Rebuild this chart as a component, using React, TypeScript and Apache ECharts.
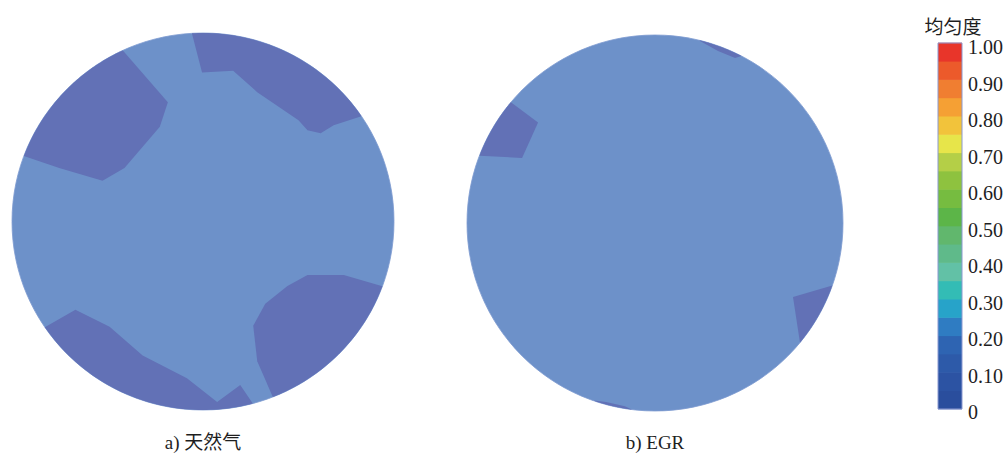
import React, { useEffect, useRef } from "react";
import * as echarts from "echarts";

// Colour bar: band edges (uniformity) and band colours, bottom to top
const bandEdges = [0, 0.05, 0.1, 0.15, 0.2, 0.25, 0.3, 0.35, 0.4, 0.45, 0.5, 0.55, 0.6, 0.65, 0.7, 0.75, 0.8, 0.85, 0.9, 0.95, 1.0];
const bandColors = [
  "#2a4e9d", "#2c53a3", "#2d5aa9", "#2e64b2", "#2f7cc2",
  "#27a3c9", "#33bcb5", "#62c1a6", "#5fba8a", "#61b76d",
  "#5cb548", "#76bc40", "#8ec23f", "#b4cf47", "#e7e54a",
  "#f2c33b", "#f5a034", "#f07e31", "#ec5a2b", "#e8352a",
];
const tickValues = [0, 0.1, 0.2, 0.3, 0.4, 0.5, 0.6, 0.7, 0.8, 0.9, 1.0];
const tickLabels = ["0", "0.10", "0.20", "0.30", "0.40", "0.50", "0.60", "0.70", "0.80", "0.90", "1.00"];
const legendTitle = "均匀度";
const captions = ["a) 天然气", "b) EGR"];

// Field colours
const backgroundColor = "#6d91c9";
const lowColor = "#6271b6";

// Low-uniformity regions, in normalised section coordinates (unit circle).
// First and last points lie on the wall; the outline closes along the wall.
const leftLowRegions: number[][][] = [
  [[-0.416, 0.9], [-0.184, 0.633], [-0.226, 0.502], [-0.411, 0.284], [-0.526, 0.216], [-0.753, 0.284], [-0.937, 0.347]],
  [[-0.058, 0.995], [-0.005, 0.791], [0.158, 0.8], [0.284, 0.686], [0.5, 0.537], [0.547, 0.484], [0.616, 0.468], [0.684, 0.511], [0.821, 0.553]],
  [[0.937, -0.342], [0.737, -0.284], [0.547, -0.284], [0.442, -0.342], [0.326, -0.437], [0.263, -0.553], [0.284, -0.742], [0.368, -0.937]],
  [[-0.832, -0.563], [-0.668, -0.468], [-0.489, -0.558], [-0.316, -0.711], [-0.084, -0.832], [0.074, -0.958], [0.195, -0.868], [0.263, -0.974]],
];
const rightLowRegions: number[][][] = [
  [[-0.755, 0.633], [-0.622, 0.534], [-0.707, 0.346], [-0.915, 0.351]],
  [[0.936, -0.33], [0.734, -0.394], [0.761, -0.628]],
  [[0.229, 0.968], [0.335, 0.915], [0.426, 0.878], [0.46, 0.888]],
  [[-0.335, -0.942], [-0.26, -0.952], [-0.16, -0.975], [-0.12, -0.993]],
];

const serif = "Liberation Serif, DejaVu Serif, Noto Sans CJK SC, serif";

function regionPoints(pts: number[][], api: any) {
  const norm = (p: number[]) => {
    const l = Math.hypot(p[0], p[1]);
    return [p[0] / l, p[1] / l];
  };
  const first = norm(pts[0]);
  const last = norm(pts[pts.length - 1]);
  const a0 = Math.atan2(last[1], last[0]);
  const a1 = Math.atan2(first[1], first[0]);
  let d = a1 - a0;
  while (d > Math.PI) d -= 2 * Math.PI;
  while (d < -Math.PI) d += 2 * Math.PI;
  const steps = 60;
  const arc: number[][] = [];
  for (let k = 1; k < steps; k++) {
    const a = a0 + (d * k) / steps;
    arc.push([Math.cos(a), Math.sin(a)]);
  }
  const all = [first, ...pts.slice(1, -1), last, ...arc];
  return all.map((p) => api.coord(p));
}

function sectionSeries(grid: number, regions: number[][][]) {
  return [
    {
      type: "custom",
      coordinateSystem: "cartesian2d",
      xAxisIndex: grid,
      yAxisIndex: grid,
      clip: false,
      silent: true,
      data: [[0, 0]],
      renderItem: (_p: any, api: any) => {
        const c = api.coord([0, 0]);
        const e = api.coord([1, 1]);
        const rx = Math.abs(e[0] - c[0]);
        const ry = Math.abs(e[1] - c[1]);
        return {
          type: "ellipse",
          shape: { cx: c[0], cy: c[1], rx, ry },
          style: { fill: backgroundColor, stroke: "#7e9bd0", lineWidth: 0.8 },
        };
      },
    },
    {
      type: "custom",
      coordinateSystem: "cartesian2d",
      xAxisIndex: grid,
      yAxisIndex: grid,
      clip: false,
      silent: true,
      data: regions.map((_r, i) => [0, 0, i]),
      renderItem: (params: any, api: any) => ({
        type: "polygon",
        shape: { points: regionPoints(regions[params.dataIndex], api) },
        style: { fill: lowColor },
      }),
    },
  ];
}

export default function App() {
  const ref = useRef<HTMLDivElement>(null);
  useEffect(() => {
    if (!ref.current) return;
    const chart = echarts.init(ref.current, undefined, { renderer: "svg" });
    const hiddenAxis = (gridIndex: number, min: number, max: number) => ({
      type: "value", gridIndex, min, max, show: false,
    });
    const nameAxis = (gridIndex: number, name: string, position: string, gap: number, font: any) => ({
      type: "value",
      gridIndex,
      min: -1,
      max: 1,
      position,
      name,
      nameLocation: "middle",
      nameGap: gap,
      nameTextStyle: { color: "#1e1e1e", ...font },
      axisLine: { show: false },
      axisTick: { show: false },
      axisLabel: { show: false },
      splitLine: { show: false },
    });
    const captionFont = { fontSize: 19, fontFamily: serif };
    const option: any = {
      animation: false,
      backgroundColor: "#ffffff",
      grid: [
        { left: 12, top: 33, width: 382, height: 378 },
        { left: 467, top: 35, width: 376, height: 377 },
        { left: 938, top: 43, width: 24, height: 366 },
        { left: 938, top: 47, width: 24, height: 365 },
        { left: 941, top: 43, width: 24, height: 366 },
      ],
      xAxis: [
        nameAxis(0, captions[0], "bottom", 23, captionFont),
        nameAxis(1, captions[1], "bottom", 22, captionFont),
        hiddenAxis(2, 0, 1),
        hiddenAxis(3, 0, 1),
        nameAxis(4, legendTitle, "top", 8, { fontSize: 19, fontFamily: "Noto Sans CJK SC" }),
      ],
      yAxis: [
        hiddenAxis(0, -1, 1),
        hiddenAxis(1, -1, 1),
        hiddenAxis(2, 0, 1),
        {
          type: "value",
          gridIndex: 3,
          min: tickValues[0],
          max: tickValues[tickValues.length - 1],
          interval: 0.1,
          position: "right",
          axisLine: { show: false },
          axisTick: { show: false },
          splitLine: { show: false },
          axisLabel: {
            margin: 6,
            fontSize: 20,
            fontFamily: serif,
            color: "#1e1e1e",
            formatter: (v: number) => {
              const i = tickValues.findIndex((t) => Math.abs(t - v) < 1e-6);
              return i >= 0 ? tickLabels[i] : "";
            },
          },
        },
        hiddenAxis(4, 0, 1),
      ],
      series: [
        ...sectionSeries(0, leftLowRegions),
        ...sectionSeries(1, rightLowRegions),
        {
          type: "custom",
          coordinateSystem: "cartesian2d",
          xAxisIndex: 2,
          yAxisIndex: 2,
          silent: true,
          clip: false,
          data: bandColors.map((_c, i) => [bandEdges[i], bandEdges[i + 1], i]),
          renderItem: (params: any, api: any) => {
            const lo = api.value(0);
            const hi = api.value(1);
            const p1 = api.coord([0, hi]);
            const p2 = api.coord([1, lo]);
            return {
              type: "rect",
              shape: { x: p1[0], y: p1[1] - 0.3, width: p2[0] - p1[0], height: p2[1] - p1[1] + 0.6 },
              style: { fill: bandColors[params.dataIndex] },
            };
          },
        },
        {
          type: "custom",
          coordinateSystem: "cartesian2d",
          xAxisIndex: 2,
          yAxisIndex: 2,
          silent: true,
          clip: false,
          data: [[0, 1]],
          renderItem: (_p: any, api: any) => {
            const p1 = api.coord([0, 1]);
            const p2 = api.coord([1, 0]);
            return {
              type: "rect",
              shape: { x: p1[0], y: p1[1], width: p2[0] - p1[0], height: p2[1] - p1[1] },
              style: { fill: "none", stroke: "#8a98d0", lineWidth: 1 },
            };
          },
        },
      ],
    };
    chart.setOption(option);
    return () => chart.dispose();
  }, []);
  return (
    <div
      ref={ref}
      style={{ position: "fixed", left: 0, top: 0, width: 1008, height: 457, background: "#fff" }}
    />
  );
}
